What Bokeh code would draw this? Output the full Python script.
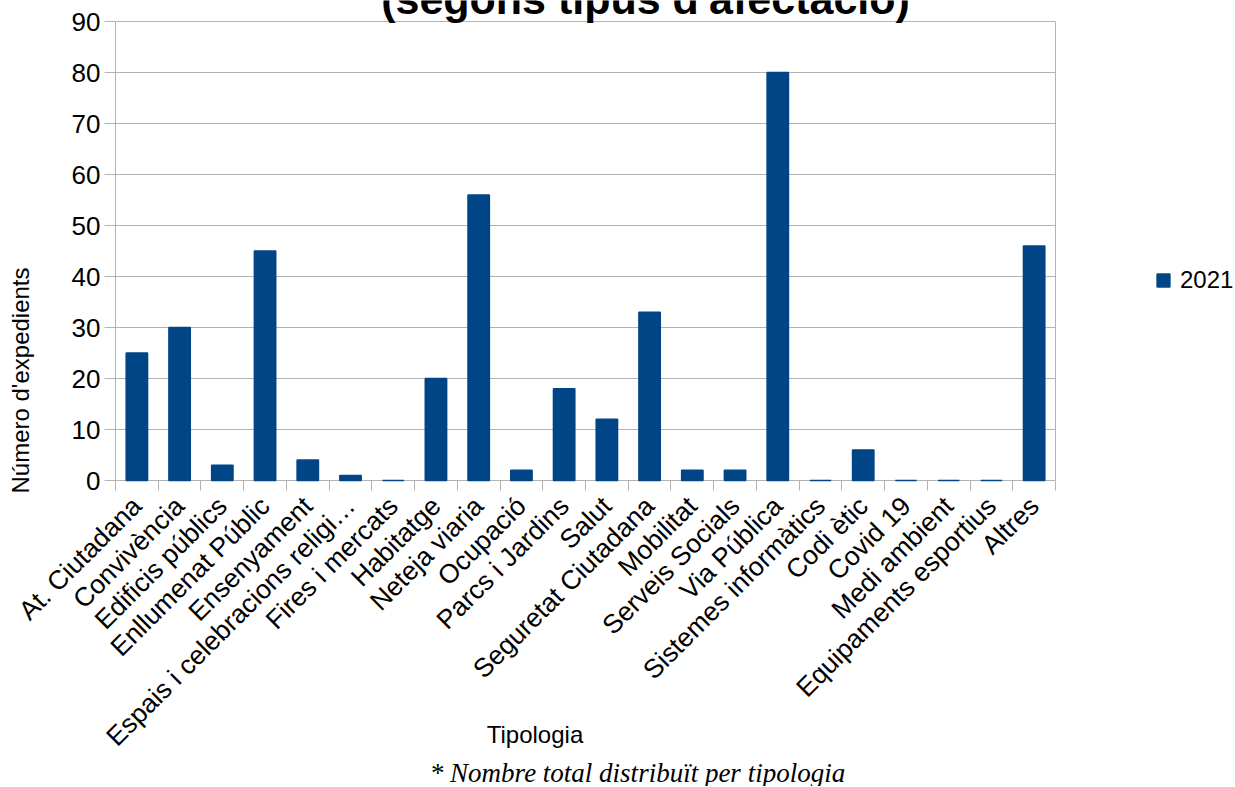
import math
from bokeh.plotting import figure
from bokeh.models import Range1d, FixedTicker, Label, Legend, LegendItem, ColumnDataSource
from bokeh.embed import file_html
from bokeh.resources import INLINE

categories = [
    "At. Ciutadana", "Convivència", "Edificis públics", "Enllumenat Públic",
    "Ensenyament", "Espais i celebracions religi…", "Fires i mercats", "Habitatge",
    "Neteja viaria", "Ocupació", "Parcs i Jardins", "Salut", "Seguretat Ciutadana",
    "Mobilitat", "Serveis Socials", "Via Pública", "Sistemes informàtics", "Codi ètic",
    "Covid 19", "Medi ambient", "Equipaments esportius", "Altres",
]
values_2021 = [25, 30, 3, 45, 4, 1, 0, 20, 56, 2, 18, 12, 33, 2, 2, 80, 0, 6, 0, 0, 0, 46]
series_name = "2021"
y_ticks = [0, 10, 20, 30, 40, 50, 60, 70, 80, 90]
title_text = "(segons tipus d'afectació)"
x_title = "Tipologia"
y_title = "Número d'expedients"
footnote = "* Nombre total distribuït per tipologia"

BAR = "#004586"
GRID = "#b3b3b3"
FONT = "Liberation Sans"

# canvas layout: the frame spans to the top and right edges so that the title and
# the legend (drawn inside the frame) are not clipped; the plot area itself is
# x 115..1055, y 21..480 on the canvas.
W, H = 1234, 786
LEFT, BOTTOM = 115, 306
PLOT_RIGHT, PLOT_TOP = 1055, 21
FRAME_W, FRAME_H = W - LEFT, H - BOTTOM
n = len(categories)
x0 = -0.5
x1 = x0 + n * FRAME_W / (PLOT_RIGHT - LEFT)
y_max = y_ticks[-1] * FRAME_H / (FRAME_H - PLOT_TOP)

p = figure(width=W, height=H, output_backend="svg", toolbar_location=None,
           x_range=Range1d(x0, x1), y_range=Range1d(y_ticks[0], y_max),
           min_border_left=LEFT, min_border_right=0, min_border_top=0, min_border_bottom=BOTTOM)
p.background_fill_color = "white"
p.border_fill_color = "white"
p.outline_line_color = None

# horizontal gridlines limited to the plot area
p.xgrid.visible = False
if hasattr(p.ygrid[0], "cross_bounds"):
    p.ygrid.grid_line_color = GRID
    p.ygrid.cross_bounds = (x0, n - 0.5)
else:
    p.ygrid.visible = False
    p.segment(x0=[x0] * len(y_ticks), y0=y_ticks, x1=[n - 0.5] * len(y_ticks), y1=y_ticks,
              line_color=GRID, line_width=1, level="underlay")
# right border of the plot area
p.segment(x0=[n - 0.5], y0=[y_ticks[0]], x1=[n - 0.5], y1=[y_ticks[-1]],
          line_color=GRID, line_width=1, level="underlay")

src = ColumnDataSource(dict(x=list(range(n)), top=values_2021, cat=categories))
r = p.vbar(x="x", top="top", bottom=0, width=0.5, fill_color=BAR, line_color=BAR,
           line_width=1.5, source=src, level="overlay")

xax = p.xaxis[0]
xax.bounds = (x0, n - 0.5)
xax.ticker = FixedTicker(ticks=list(range(n)), minor_ticks=[i - 0.5 for i in range(n + 1)])
xax.major_label_overrides = {i: c for i, c in enumerate(categories)}
xax.major_label_orientation = math.pi / 4
xax.major_tick_line_color = None
xax.major_tick_in = 0
xax.major_tick_out = 0
xax.minor_tick_line_color = GRID
xax.minor_tick_in = 0
xax.minor_tick_out = 10
xax.axis_line_color = GRID
xax.major_label_text_font = FONT
xax.major_label_text_font_size = "26.5px"
xax.major_label_text_color = "black"
xax.major_label_standoff = 11
# axis title is centred on the frame; trailing no-break spaces move it under the plot area
xax.axis_label = x_title + "\u00a0" * 42
xax.axis_label_text_font = FONT
xax.axis_label_text_font_size = "24px"
xax.axis_label_text_font_style = "normal"
xax.axis_label_text_color = "black"
xax.axis_label_standoff = -44

yax = p.yaxis[0]
yax.bounds = (y_ticks[0], y_ticks[-1])
yax.ticker = FixedTicker(ticks=y_ticks, minor_ticks=[])
yax.major_tick_line_color = GRID
yax.major_tick_in = 0
yax.major_tick_out = 11
yax.minor_tick_line_color = None
yax.axis_line_color = GRID
yax.major_label_text_font = FONT
yax.major_label_text_font_size = "26px"
yax.major_label_text_color = "black"
yax.major_label_standoff = 4

legend = Legend(items=[LegendItem(label=series_name, renderers=[r])], location=(1040, 186),
                padding=0, margin=0, border_line_color=None, background_fill_alpha=0,
                glyph_width=16, glyph_height=16, label_standoff=9, label_height=16,
                label_text_font=FONT, label_text_font_size="24px", label_text_color="black")
p.add_layout(legend)

# chart title, its upper part cut by the top edge
p.add_layout(Label(x=530, y=482, x_units="screen", y_units="screen", text=title_text,
                   text_align="center", text_baseline="middle", text_font=FONT,
                   text_font_style="bold", text_font_size="43px", text_color="black"))

# y title in the left panel
p.add_layout(Label(x=-21, y=100, x_units="screen", y_units="screen", text=y_title, angle=math.pi / 2,
                   text_align="center", text_baseline="middle", text_font=FONT,
                   text_font_size="24px", text_color="black"), "left")

# footnote in the below panel
p.add_layout(Label(x=522, y=9, x_units="screen", y_units="screen", text=footnote,
                   text_align="center", text_baseline="middle", text_font="Liberation Serif",
                   text_font_style="italic", text_font_size="27px", text_color="black"), "below")

open("out.html", "w").write(file_html(p, INLINE))
